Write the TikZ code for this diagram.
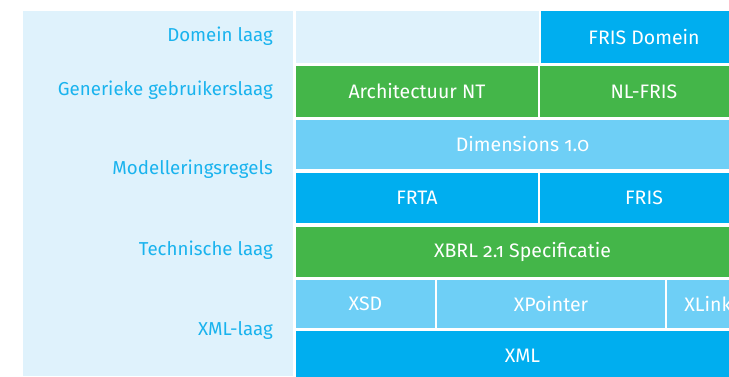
\documentclass[tikz,border=0pt]{standalone}
\usepackage{fontspec}
\setmainfont{Fira Sans}[Numbers=OldStyle]
\definecolor{panel}{HTML}{DFF2FC}
\definecolor{cblue}{HTML}{00AEEF}
\definecolor{cgreen}{HTML}{44B649}
\definecolor{clight}{HTML}{6ECFF6}
\definecolor{labelc}{HTML}{19B3EE}
\begin{document}
\begin{tikzpicture}[x=1pt,y=-1pt,
  cell/.style={inner sep=0pt, outer sep=0pt, text=white, font=\fontsize{19.5}{22}\selectfont},
  blueblk/.style={cell, fill=cblue},
  greenblk/.style={cell, fill=cgreen},
  lightblk/.style={cell, fill=clight},
  emptyblk/.style={cell, fill=panel},
  lbl/.style={anchor=east, inner sep=0pt, text=labelc, font=\fontsize{18.7}{22}\selectfont}]
\useasboundingbox (0,0) rectangle (729,376);
\clip (0,0) rectangle (729,376);
\fill[white] (0,0) rectangle (729,376);
% left panel
\fill[panel] (23,11) rectangle (293,376);
% row 1
\node[emptyblk, minimum width=243pt, minimum height=52pt] (empty) at (417.5,37) {};
\node[blueblk, minimum width=206pt, minimum height=52pt] (frisdomein) at (644,37) {FRIS Domein};
% row 2
\node[greenblk, minimum width=242pt, minimum height=51pt] (arch) at (417,91.5) {Architectuur NT};
\node[greenblk, minimum width=208pt, minimum height=51pt] (nlfris) at (644,91.5) {NL-FRIS};
% row 3
\node[lightblk, minimum width=453pt, minimum height=49pt] (dim) at (522.5,144.5) {Dimensions 1.0};
% row 4
\node[blueblk, minimum width=242pt, minimum height=50pt] (frta) at (417,198) {FRTA};
\node[blueblk, minimum width=208pt, minimum height=50pt] (fris) at (644,198) {FRIS};
% row 5
\node[greenblk, minimum width=453pt, minimum height=50pt] (xbrl) at (522.5,252) {XBRL 2.1 Specificatie};
% row 6
\node[lightblk, minimum width=139pt, minimum height=48pt] (xsd) at (365.5,304) {XSD};
\node[lightblk, minimum width=228pt, minimum height=48pt] (xpointer) at (551,304) {XPointer};
\node[lightblk, minimum width=82pt, minimum height=48pt] (xlink) at (708,304) {XLink};
% row 7
\node[blueblk, minimum width=453pt, minimum height=50pt] (xml) at (522.5,356) {XML};
% labels
\node[lbl] (l1) at (273,36) {Domein laag};
\node[lbl] (l2) at (273,90) {Generieke gebruikerslaag};
\node[lbl] (l3) at (273,169) {Modelleringsregels};
\node[lbl] (l4) at (273,250) {Technische laag};
\node[lbl] (l5) at (273,330) {XML-laag};
\end{tikzpicture}
\end{document}
